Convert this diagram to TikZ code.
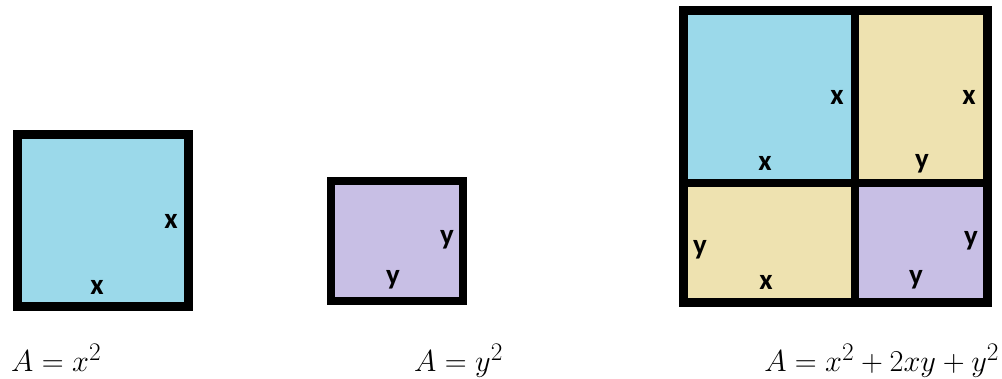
\documentclass[tikz,border=0pt]{standalone}
\usepackage{fontspec}
\newfontfamily\lbl{Carlito}[BoldFont={Carlito Bold}]
\definecolor{sqblue}{RGB}{155,217,234}
\definecolor{sqbeige}{RGB}{238,226,176}
\definecolor{sqpurple}{RGB}{200,191,229}
\tikzset{
  side/.style={font=\lbl\bfseries\fontsize{29}{31}\selectfont, inner sep=0pt, anchor=center},
  formula/.style={font=\fontsize{24.88}{30}\selectfont, inner sep=0pt, anchor=base west, scale=1.22},
  border/.style={draw=black, line width=9pt, line join=miter}
}
\begin{document}
\begin{tikzpicture}[x=1pt,y=-1pt]
\useasboundingbox (0,0) rectangle (1002,379);
% left square x^2
\fill[sqblue] (17,135) rectangle (188.5,307);
\draw[border] (17,135) rectangle (188.5,307);
\node[side] (lx1) at (171,221) {x};
\node[side] (lx2) at (97,287) {x};
% middle square y^2
\fill[sqpurple] (330.5,181) rectangle (462.5,301.5);
\draw[border, line width=8pt] (330.5,181) rectangle (462.5,301.5);
\node[side] (my1) at (447,240) {y};
\node[side] (my2) at (393,280) {y};
% big square
\fill[sqblue] (683.7,10.8) rectangle (854.7,182.7);
\fill[sqbeige] (854.7,10.8) rectangle (987,182.7);
\fill[sqbeige] (683.7,182.7) rectangle (854.7,303);
\fill[sqpurple] (854.7,182.7) rectangle (987,303);
\coordinate (vt) at (854.7,10.8);
\coordinate (vb) at (854.7,303);
\coordinate (hl) at (683.7,182.7);
\coordinate (hr) at (987,182.7);
\draw[border, line width=8pt] (vt) -- (vb);
\draw[border, line width=8pt] (hl) -- (hr);
\draw[border] (683.7,10.8) rectangle (987,303);
\node[side] (bx1) at (837,97) {x};
\node[side] (bx2) at (765,163) {x};
\node[side] (bx3) at (969,97) {x};
\node[side] (by1) at (922,164) {y};
\node[side] (by2) at (700,250) {y};
\node[side] (bx4) at (766,282) {x};
\node[side] (by3) at (971,241) {y};
\node[side] (by4) at (916,280) {y};
% formulas
\node[formula] (f1) at (11,371.5) {$A = x^2$};
\node[formula] (f2) at (414,371.5) {$A = y^2$};
\node[formula] (f3) at (764,371.5) {$A = x^2 + 2xy + y^2$};
\end{tikzpicture}
\end{document}
